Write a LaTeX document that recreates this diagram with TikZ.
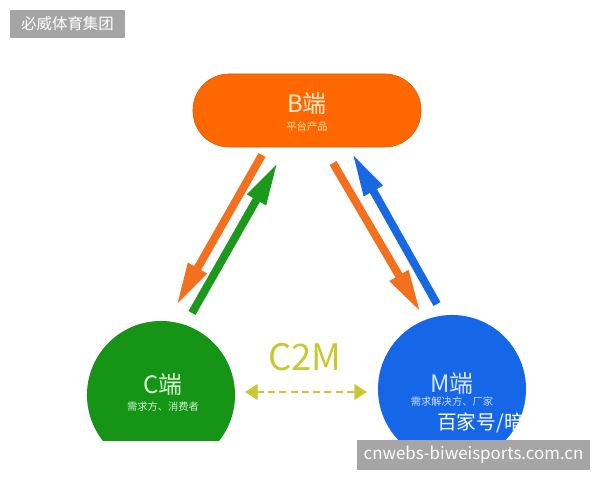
\documentclass[tikz,border=0pt]{standalone}
\usepackage{fontspec}
\setmainfont{Noto Sans CJK SC}
\usetikzlibrary{arrows.meta,positioning,calc}
\definecolor{bOrange}{RGB}{255,104,0}
\definecolor{cGreen}{RGB}{22,148,22}
\definecolor{mBlue}{RGB}{22,102,232}
\definecolor{arrOrange}{RGB}{242,112,30}
\definecolor{arrGreen}{RGB}{28,152,28}
\definecolor{arrBlue}{RGB}{24,104,226}
\definecolor{cmOlive}{RGB}{200,200,50}
\definecolor{markGray}{RGB}{165,165,165}

\begin{document}
\begin{tikzpicture}[
    x=0.025cm, y=-0.025cm,
    pill/.style={
        rectangle,
        rounded corners=0.9cm,
        fill=bOrange,
        draw=bOrange!85!black,
        line width=0.4pt,
        minimum width=5.7cm,
        minimum height=1.825cm
    },
    disc/.style={
        circle,
        minimum size=3.7cm,
        inner sep=0pt
    },
    title/.style={
        font=\fontsize{17}{17}\selectfont,
        inner sep=0pt
    },
    subtitle/.style={
        font=\fontsize{7.3}{7.3}\selectfont,
        inner sep=0pt
    },
    flow/.style={
        line width=5.7pt,
        -{Triangle[length=31pt, width=14pt]}
    },
    link/.style={
        cmOlive,
        line width=2pt,
        dash pattern=on 5pt off 3pt,
        {Triangle[length=9pt, width=11pt]}-{Triangle[length=9pt, width=11pt]}
    },
    tag/.style={
        rectangle,
        fill=markGray,
        text=white,
        inner sep=0pt
    }
]
\useasboundingbox (0,0) rectangle (600,480);

% Brand tag
\node[tag, minimum width=2.875cm, minimum height=0.7cm,
    font=\fontsize{11}{11}\selectfont] (brand) at (67.5,24) {必威体育集团};

\begin{scope}
\clip (0,0) rectangle (600,440);

% B side: platform
\node[pill] (B) at (307,110.5) {};
\node[title, text={rgb,255:red,255;green,238;blue,205}] (Btitle) at (307,103) {B端};
\node[subtitle, text={rgb,255:red,255;green,225;blue,170}] (Bsub) at (307,127) {平台产品};

% C side: consumers
\node[disc, fill=cGreen] (C) at (161,395) {};
\node[title, text={rgb,255:red,215;green,245;blue,215}] (Ctitle) at (163,384) {C端};
\node[subtitle, text={rgb,255:red,205;green,240;blue,205}] (Csub) at (163,407) {需求方、消费者};

% M side: manufacturers
\node[disc, fill=mBlue] (M) at (452,389) {};
\node[title, text={rgb,255:red,215;green,230;blue,255}] (Mtitle) at (452,383) {M端};
\node[subtitle, text={rgb,255:red,205;green,222;blue,255}] (Msub) at (452,402) {需求解决方、厂家};

% Watermark on M
\begin{scope}
\clip (M) circle [radius=74];
\node[anchor=west, inner sep=0pt, text=white, font=\fontsize{14}{14}\selectfont] (mark) at (437,423) {百家号/暗};
\end{scope}
\end{scope}

% Arrow ends
\coordinate (bc1) at (262,155);
\coordinate (cb1) at (176,306);
\coordinate (cb2) at (192,313);
\coordinate (bc2) at (278,162);
\coordinate (bm1) at (333,163);
\coordinate (mb1) at (421,313);
\coordinate (mb2) at (437,304);
\coordinate (bm2) at (352,153);

% Arrows
\draw[flow, arrOrange] (bc1) -- (cb1);
\draw[flow, arrGreen] (cb2) -- (bc2);
\draw[flow, arrOrange] (bm1) -- (mb1);
\draw[flow, arrBlue] (mb2) -- (bm2);

% C2M link
\node[text=cmOlive, font=\fontsize{26}{26}\selectfont, inner sep=0pt] (c2m) at (305,357) {C2M};
\coordinate (cl) at (245,392);
\coordinate (ml) at (367,392);
\draw[link] (cl) -- (ml);

% Site bar
\node[tag, minimum width=5.825cm, minimum height=0.75cm,
    font=\fontsize{12}{12}\selectfont] (site) at (473.5,455) {cnwebs-biweisports.com.cn};

\end{tikzpicture}
\end{document}
